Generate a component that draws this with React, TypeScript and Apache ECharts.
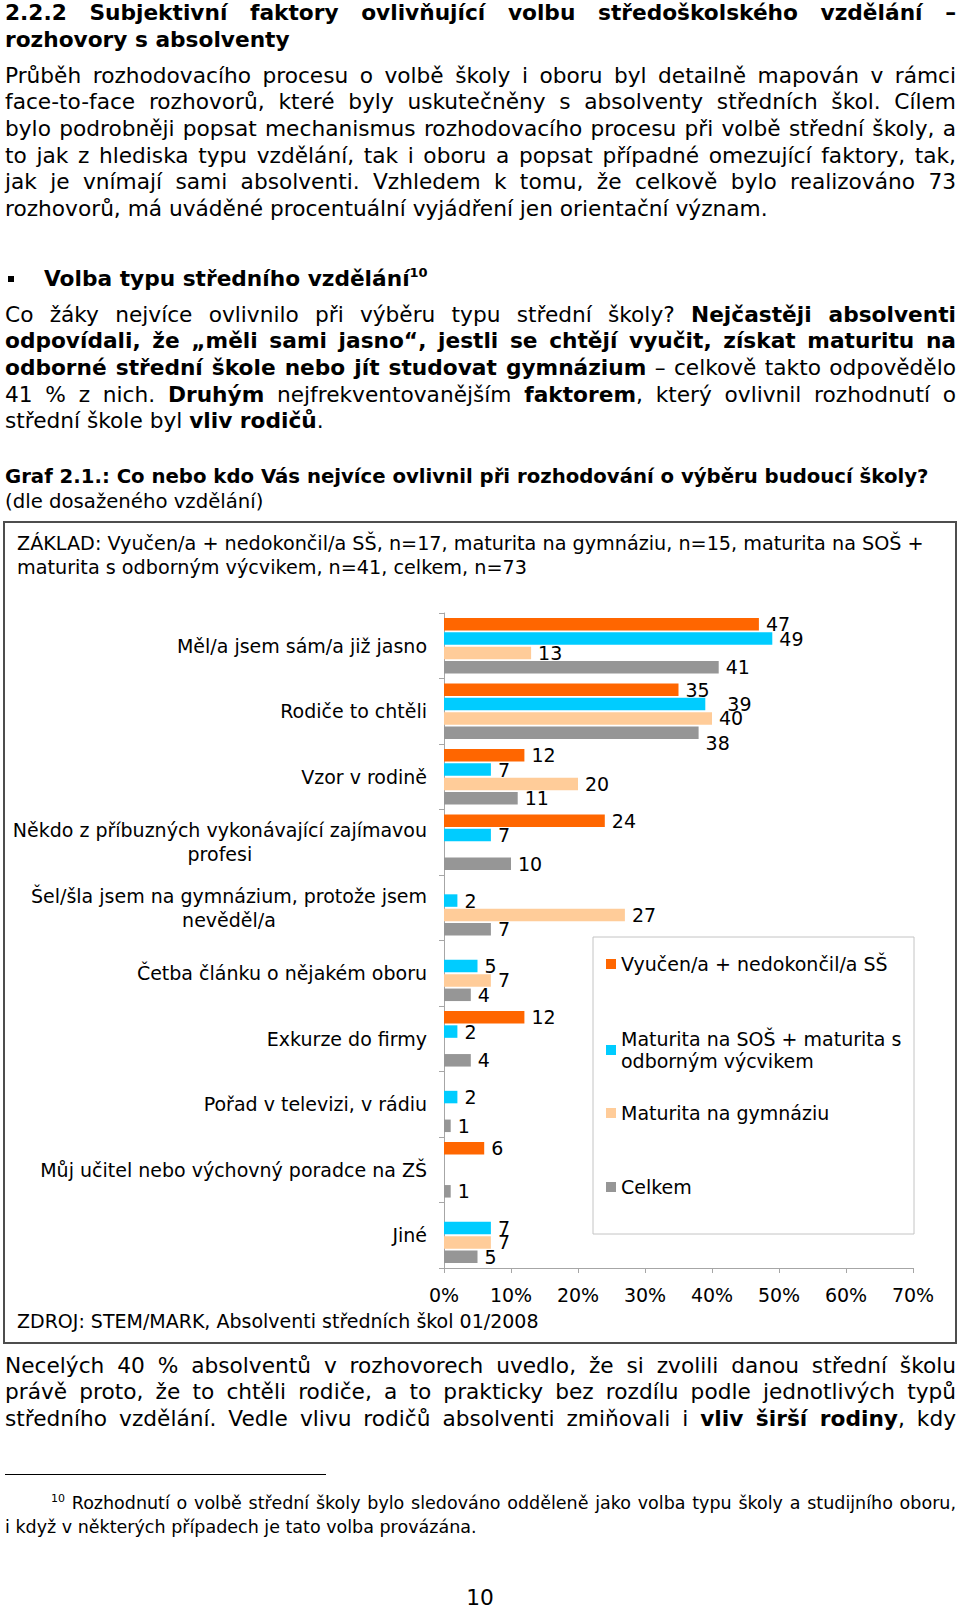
import React, { useEffect, useRef } from 'react';
import * as echarts from 'echarts';

const categories = [
  'Měl/a jsem sám/a již jasno',
  'Rodiče to chtěli',
  'Vzor v rodině',
  'Někdo z příbuzných vykonávající zajímavou\nprofesi',
  'Šel/šla jsem na gymnázium, protože jsem\nnevěděl/a',
  'Četba článku o nějakém oboru',
  'Exkurze do firmy',
  'Pořad v televizi, v rádiu',
  'Můj učitel nebo výchovný poradce na ZŠ',
  'Jiné',
];

const seriesNames = [
  'Vyučen/a + nedokončil/a SŠ',
  'Maturita na SOŠ + maturita s odborným výcvikem',
  'Maturita na gymnáziu',
  'Celkem',
];
const legendLabels = [
  'Vyučen/a + nedokončil/a SŠ',
  'Maturita na SOŠ + maturita s\nodborným výcvikem',
  'Maturita na gymnáziu',
  'Celkem',
];

const vyucen = [47, 35, 12, 24, null, null, 12, null, 6, null];
const maturitaSos = [49, 39, 7, 7, 2, 5, 2, 2, null, 7];
const gymnazium = [13, 40, 20, null, 27, 7, null, null, null, 7];
const celkem = [41, 38, 11, 10, 7, 4, 4, 1, 1, 5];

const axisMin = 0;
const axisMax = 70;
const axisStep = 10;

const baseText =
  'ZÁKLAD: Vyučen/a + nedokončil/a SŠ, n=17, maturita na gymnáziu, n=15, maturita na SOŠ +\nmaturita s odborným výcvikem, n=41, celkem, n=73';
const sourceText = 'ZDROJ: STEM/MARK, Absolventi středních škol 01/2008';

const FONT = "'DejaVu Sans', Verdana, sans-serif";
const COLORS = ['#FF6600', '#00CCFF', '#FFCC99', '#969696'];

// label placement tweaks (as in the original Excel chart), keyed "series-index"
const labelNudges: Record<string, number[]> = {
  '1-1': [15, 0],
  '3-1': [0, 10],
};

const BODY: React.CSSProperties = {
  position: 'absolute',
  left: 5,
  width: 951,
  fontFamily: FONT,
  fontSize: 21.7,
  lineHeight: '26.66px',
  color: '#000',
};

function L({ children, last }: { children: React.ReactNode; last?: boolean }) {
  return (
    <div style={{ textAlign: 'justify', textAlignLast: last ? 'left' : 'justify' }}>{children}</div>
  );
}

function Chart() {
  const ref = useRef<HTMLDivElement>(null);
  useEffect(() => {
    const chart = echarts.init(ref.current!, null, { renderer: 'svg' });
    const values = [vyucen, maturitaSos, gymnazium, celkem];
    const legendTops = [433, 508, 582, 656];
    chart.setOption({
      animation: false,
      textStyle: { fontFamily: FONT },
      grid: { left: 444, right: 47, top: 93, bottom: 78, containLabel: false, outerBoundsMode: 'none' },
      xAxis: {
        type: 'value',
        min: axisMin,
        max: axisMax,
        interval: axisStep,
        axisLine: { show: true, lineStyle: { color: '#a6a6a6', width: 1 } },
        axisTick: { show: true, length: 5, lineStyle: { color: '#a6a6a6' } },
        splitLine: { show: false },
        axisLabel: {
          formatter: '{value}%',
          fontSize: 19,
          color: '#000',
          margin: 17,
          fontFamily: FONT,
        },
      },
      yAxis: {
        type: 'category',
        data: categories,
        inverse: true,
        axisLine: { show: true, lineStyle: { color: '#a6a6a6', width: 1 } },
        axisTick: { show: true, length: 5, lineStyle: { color: '#a6a6a6' } },
        splitLine: { show: false },
        axisLabel: {
          margin: 17,
          fontSize: 19,
          color: '#000',
          fontFamily: FONT,
          formatter: (v: string) =>
            v
              .split('\n')
              .map((l) => `{c|${l}}`)
              .join('\n'),
          rich: {
            c: { align: 'center', fontSize: 19, lineHeight: 24, color: '#000', fontFamily: FONT },
          },
        },
      },
      legend: seriesNames.map((n, i) => ({
        data: [n],
        left: 606,
        top: legendTops[i],
        orient: 'vertical',
        padding: 0,
        itemWidth: 10,
        itemHeight: 10,
        icon: 'rect',
        selectedMode: false,
        formatter: () => legendLabels[i],
        textStyle: { fontSize: 19, color: '#000', lineHeight: 22, fontFamily: FONT },
      })),
      graphic: [
        {
          type: 'rect',
          shape: { x: 4, y: 2, width: 952, height: 821 },
          style: { fill: 'none', stroke: '#4d4d4d', lineWidth: 2 },
        },
        {
          type: 'rect',
          shape: { x: 593, y: 417, width: 321, height: 297 },
          style: { fill: 'none', stroke: '#c4c4c4', lineWidth: 1 },
        },
        {
          type: 'text',
          x: 17,
          y: 12,
          style: {
            text: baseText,
            fontSize: 19.2,
            lineHeight: 23.5,
            fill: '#000',
            fontFamily: FONT,
            verticalAlign: 'top',
          },
        },
        {
          type: 'text',
          x: 17,
          y: 801,
          style: {
            text: sourceText,
            fontSize: 19,
            fill: '#000',
            fontFamily: FONT,
            verticalAlign: 'middle',
          },
        },
      ],
      series: seriesNames.map((n, i) => ({
        type: 'bar',
        name: n,
        data: values[i].map((v, j) => {
          const nudge = labelNudges[`${i}-${j}`];
          return nudge ? { value: v, label: { offset: nudge } } : v;
        }),
        barWidth: 12.5,
        barGap: '15%',
        itemStyle: { color: COLORS[i] },
        label: {
          show: true,
          position: 'right',
          distance: 7,
          fontSize: 19,
          color: '#000',
          fontFamily: FONT,
        },
      })),
    });
    return () => chart.dispose();
  }, []);
  return (
    <div
      ref={ref}
      style={{ position: 'absolute', left: 0, top: 520, width: 960, height: 826 }}
    />
  );
}

export default function App() {
  return (
    <div style={{ position: 'absolute', left: 0, top: 0, width: 960, height: 1608, background: '#fff' }}>
      <div style={{ ...BODY, top: 0, fontWeight: 'bold' }}>
        <L>2.2.2 Subjektivní faktory ovlivňující volbu středoškolského vzdělání –</L>
        <L last>rozhovory s absolventy</L>
      </div>
      <div style={{ ...BODY, top: 62.6 }}>
        <L>Průběh rozhodovacího procesu o volbě školy i oboru byl detailně mapován v rámci</L>
        <L>face-to-face rozhovorů, které byly uskutečněny s absolventy středních škol. Cílem</L>
        <L>bylo podrobněji popsat mechanismus rozhodovacího procesu při volbě střední školy, a</L>
        <L>to jak z hlediska typu vzdělání, tak i oboru a popsat případné omezující faktory, tak,</L>
        <L>jak je vnímají sami absolventi. Vzhledem k tomu, že celkově bylo realizováno 73</L>
        <L last>rozhovorů, má uváděné procentuální vyjádření jen orientační význam.</L>
      </div>
      <div style={{ position: 'absolute', left: 8, top: 276, width: 6, height: 6, background: '#000' }} />
      <div style={{ ...BODY, left: 44, width: 900, top: 265.7, fontWeight: 'bold' }}>
        Volba typu středního vzdělání
        <span style={{ fontSize: 13, position: 'relative', top: -9 }}>10</span>
      </div>
      <div style={{ ...BODY, top: 301.7 }}>
        <L>
          Co žáky nejvíce ovlivnilo při výběru typu střední školy? <b>Nejčastěji absolventi</b>
        </L>
        <L>
          <b>odpovídali, že „měli sami jasno“, jestli se chtějí vyučit, získat maturitu na</b>
        </L>
        <L>
          <b>odborné střední škole nebo jít studovat gymnázium</b> – celkově takto odpovědělo
        </L>
        <L>
          41 % z nich. <b>Druhým</b> nejfrekventovanějším <b>faktorem</b>, který ovlivnil rozhodnutí o
        </L>
        <L last>
          střední škole byl <b>vliv rodičů</b>.
        </L>
      </div>
      <div style={{ ...BODY, top: 463.5, fontSize: 19.7, lineHeight: '25px' }}>
        <div style={{ fontWeight: 'bold', whiteSpace: 'nowrap' }}>
          Graf 2.1.: Co nebo kdo Vás nejvíce ovlivnil při rozhodování o výběru budoucí školy?
        </div>
        <div>(dle dosaženého vzdělání)</div>
      </div>
      <Chart />
      <div style={{ ...BODY, top: 1352.7 }}>
        <L>Necelých 40 % absolventů v rozhovorech uvedlo, že si zvolili danou střední školu</L>
        <L>právě proto, že to chtěli rodiče, a to prakticky bez rozdílu podle jednotlivých typů</L>
        <L>
          středního vzdělání. Vedle vlivu rodičů absolventi zmiňovali i <b>vliv širší rodiny</b>, kdy
        </L>
      </div>
      <div style={{ position: 'absolute', left: 5, top: 1474, width: 321, height: 1, background: '#000' }} />
      <div style={{ ...BODY, top: 1493, fontSize: 17.5, lineHeight: '20.5px' }}>
        <L>
          <span style={{ display: 'inline-block', width: 46 }} />
          <span style={{ fontSize: 11, position: 'relative', top: -7 }}>10</span> Rozhodnutí o volbě
          střední školy bylo sledováno odděleně jako volba typu školy a studijního oboru,
        </L>
        <L last>i když v některých případech je tato volba provázána.</L>
      </div>
      <div
        style={{
          ...BODY,
          top: 1584.7,
          left: 430,
          width: 100,
          textAlign: 'center',
        }}
      >
        10
      </div>
    </div>
  );
}
